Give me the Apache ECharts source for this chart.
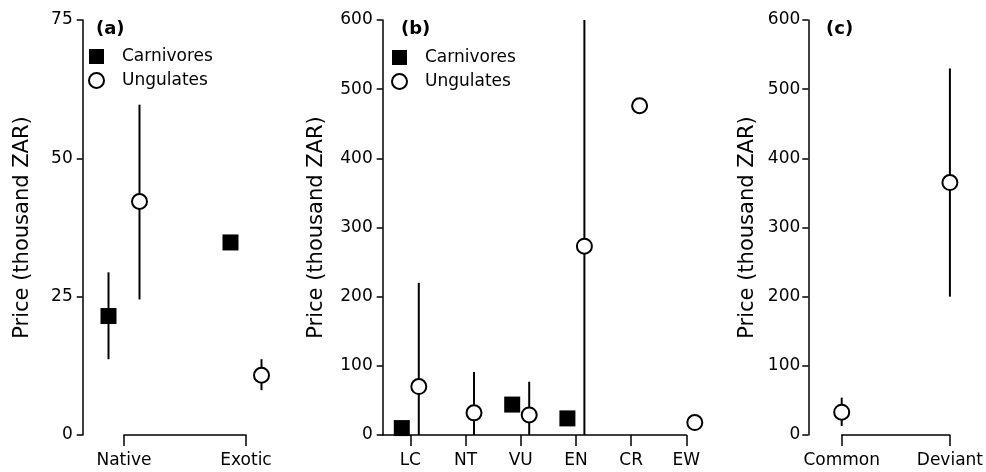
<!DOCTYPE html>
<html>
<head>
<meta charset="utf-8">
<script src="https://cdn.jsdelivr.net/npm/echarts@6/dist/echarts.min.js"></script>
<style>
  html, body { margin: 0; padding: 0; background: #fff; }
  #chart { width: 986px; height: 472px; }
</style>
</head>
<body>
<div id="chart"></div>
<script>
// (a) origin of the species
const originCats = ['Native', 'Exotic'];
const carnOrigin = [21.5, 34.8];
const carnOriginLow = [13.7, null];
const carnOriginHigh = [29.4, null];
const ungOrigin = [42.2, 10.8];
const ungOriginLow = [24.5, 8.1];
const ungOriginHigh = [59.7, 13.7];
const ticksA = [0, 25, 50, 75];

// (b) red list status
const statusCats = ['LC', 'NT', 'VU', 'EN', 'CR', 'EW'];
const carnStatus = [10, null, 44, 24, null, null];
const ungStatus = [70, 32, 29, 273, 476, 18];
const ungStatusLow = [0, 0, 0, 0, null, null];
const ungStatusHigh = [220, 91, 77, 600, null, null];
const ticksB = [0, 100, 200, 300, 400, 500, 600];

// (c) colour variant
const typeCats = ['Common', 'Deviant'];
const ungType = [33, 365];
const ungTypeLow = [13, 200];
const ungTypeHigh = [54, 530];
const ticksC = [0, 100, 200, 300, 400, 500, 600];

const FONT = 'DejaVu Sans';
const black = '#000';

// x position: category name or numeric position
function pts(xs, vals) {
  return vals.map((v, i) => [xs[i], v]).filter(d => d[1] != null);
}
function bars(xs, lo, hi) {
  return lo.map((l, i) => [xs[i], l, hi[i]]).filter(d => d[1] != null);
}

function errorSeries(idx, data, dx) {
  return {
    type: 'custom',
    xAxisIndex: idx,
    yAxisIndex: idx,
    z: 1,
    clip: false,
    silent: true,
    encode: { x: 0, y: [1, 2] },
    data: data,
    renderItem: function (params, api) {
      const a = api.coord([api.value(0), api.value(1)]);
      const b = api.coord([api.value(0), api.value(2)]);
      return {
        type: 'line',
        shape: { x1: a[0] + dx, y1: a[1], x2: b[0] + dx, y2: b[1] },
        style: { stroke: black, lineWidth: 2 }
      };
    }
  };
}

function carnSeries(idx, data, dx) {
  return {
    name: 'Carnivores',
    type: 'scatter',
    xAxisIndex: idx,
    yAxisIndex: idx,
    z: 3,
    clip: false,
    symbol: 'rect',
    symbolSize: 16,
    symbolOffset: [dx, 0],
    itemStyle: { color: black, opacity: 1 },
    data: data
  };
}

function ungSeries(idx, data, dx) {
  return {
    name: 'Ungulates',
    type: 'scatter',
    xAxisIndex: idx,
    yAxisIndex: idx,
    z: 3,
    clip: false,
    symbol: 'circle',
    symbolSize: 15,
    symbolOffset: [dx, 0],
    itemStyle: { color: '#fff', borderColor: black, borderWidth: 2, opacity: 1 },
    data: data
  };
}

function yAxisOf(idx, ticks, offset, nameGap, margin) {
  return {
    gridIndex: idx,
    type: 'value',
    min: ticks[0],
    max: ticks[ticks.length - 1],
    interval: ticks[1] - ticks[0],
    offset: offset,
    name: 'Price (thousand ZAR)',
    nameLocation: 'middle',
    nameRotate: 90,
    nameGap: nameGap,
    nameTextStyle: { fontFamily: FONT, fontSize: 21, color: black },
    axisLine: { show: true, lineStyle: { color: black, width: 1.5 } },
    axisTick: { show: true, length: 6, lineStyle: { color: black, width: 1.5 } },
    axisLabel: { fontFamily: FONT, fontSize: 17, color: black, margin: margin },
    splitLine: { show: false }
  };
}

function catAxisOf(idx, cats) {
  return {
    gridIndex: idx,
    type: 'category',
    data: cats,
    boundaryGap: false,
    axisLine: { show: true, lineStyle: { color: black, width: 1.5 } },
    axisTick: { show: true, length: 11, interval: 0, lineStyle: { color: black, width: 1.5 } },
    axisLabel: { fontFamily: FONT, fontSize: 17, color: black, margin: 17, interval: 0 },
    splitLine: { show: false }
  };
}

const statusPos = statusCats.map((c, i) => i + 1);

function legendAt(left, top) {
  return {
    orient: 'vertical',
    left: left,
    top: top,
    padding: 0,
    itemWidth: 15,
    itemHeight: 15,
    itemGap: 7,
    selectedMode: false,
    data: [{ name: 'Carnivores', icon: 'rect' }, { name: 'Ungulates', icon: 'circle' }],
    textStyle: { fontFamily: FONT, fontSize: 17, color: black, padding: [0, 0, 0, 13] }
  };
}

function panelTitle(text, left) {
  return {
    text: text,
    left: left,
    top: 20,
    padding: 0,
    textStyle: { fontFamily: FONT, fontSize: 18, fontWeight: 'bold', color: black }
  };
}

const chart = echarts.init(document.getElementById('chart'));
chart.setOption({
  animation: false,
  backgroundColor: '#fff',
  title: [panelTitle('(a)', 96), panelTitle('(b)', 401), panelTitle('(c)', 826)],
  legend: [legendAt(88, 48), legendAt(391, 49)],
  grid: [
    { left: 124, top: 20, width: 122, height: 415 },
    { left: 382.7, top: 20, width: 303.6, height: 415 },
    { left: 841.7, top: 20, width: 110.6, height: 415 }
  ],
  xAxis: [
    catAxisOf(0, originCats),
    {
      gridIndex: 1,
      type: 'value',
      min: 0.5,
      max: statusPos.length,
      axisLine: { show: true, lineStyle: { color: black, width: 1.5 } },
      axisTick: { show: true, length: 11, customValues: statusPos, lineStyle: { color: black, width: 1.5 } },
      axisLabel: {
        fontFamily: FONT, fontSize: 17, color: black, margin: 17,
        customValues: statusPos,
        formatter: v => statusCats[Math.round(v) - 1]
      },
      splitLine: { show: false }
    },
    catAxisOf(2, typeCats)
  ],
  yAxis: [
    yAxisOf(0, ticksA, 41.3, 50, 10),
    yAxisOf(1, ticksB, 0, 56, 10),
    yAxisOf(2, ticksC, 33.4, 50, 8)
  ],
  series: [
    errorSeries(0, bars(originCats, carnOriginLow, carnOriginHigh), -15.5),
    errorSeries(0, bars(originCats, ungOriginLow, ungOriginHigh), 15.5),
    carnSeries(0, pts(originCats, carnOrigin), -15.5),
    ungSeries(0, pts(originCats, ungOrigin), 15.5),

    errorSeries(1, bars(statusPos, ungStatusLow, ungStatusHigh), 8.5),
    carnSeries(1, pts(statusPos, carnStatus), -8.5),
    ungSeries(1, pts(statusPos, ungStatus), 8.5),

    errorSeries(2, bars(typeCats, ungTypeLow, ungTypeHigh), 0),
    ungSeries(2, pts(typeCats, ungType), 0)
  ]
});
</script>
</body>
</html>
